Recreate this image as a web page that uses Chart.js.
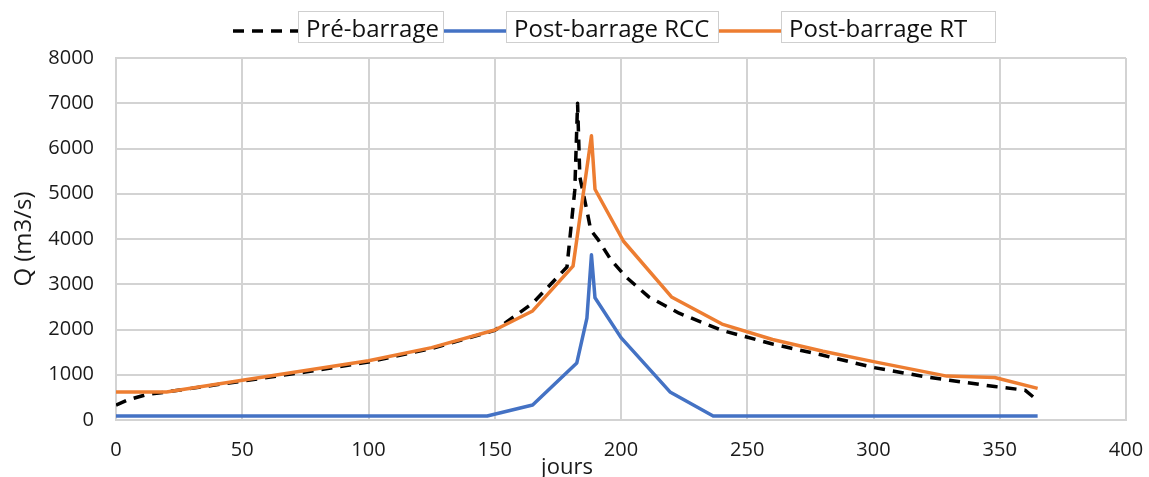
<!DOCTYPE html>
<html><head><meta charset="utf-8">
<script src="https://cdn.jsdelivr.net/npm/chart.js@4.4.1/dist/chart.umd.min.js"></script>
<style>html,body{margin:0;padding:0;background:#fff;overflow:hidden}</style>
</head><body>
<canvas id="c" width="1149" height="477"></canvas>
<script>
// ---- data ----
const seriesNames = ["Pré-barrage", "Post-barrage RCC", "Post-barrage RT"];
const xTicks = [0, 50, 100, 150, 200, 250, 300, 350, 400];
const yTicks = [0, 1000, 2000, 3000, 4000, 5000, 6000, 7000, 8000];
const xTitle = "jours";
const yTitle = "Q (m3/s)";

const preDays = [0, 5, 12, 20, 35, 50, 75, 100, 125, 150, 165, 178.6, 181.7, 182.8, 183.7, 187, 188, 191, 196, 202, 211, 223, 240, 260, 280, 300, 320, 330, 348, 360, 365];
const preQ    = [330, 450, 560, 620, 740, 860, 1060, 1280, 1580, 1980, 2580, 3380, 5080, 7000, 5370, 4490, 4200, 3980, 3540, 3160, 2720, 2360, 1980, 1680, 1430, 1160, 960, 880, 740, 660, 430];

const rccDays = [0, 147, 165, 182.5, 186.5, 188.3, 189.7, 200, 219.4, 236.5, 365];
const rccQ    = [90, 90, 330, 1260, 2250, 3650, 2700, 1820, 620, 90, 90];

const rtDays = [0, 20, 50, 100, 125, 150, 165, 181, 188.3, 189.7, 201, 220, 240, 260, 280, 300, 329, 348, 365];
const rtQ    = [620, 620, 880, 1310, 1600, 1990, 2410, 3400, 6280, 5100, 3950, 2720, 2120, 1780, 1520, 1290, 970, 940, 700];

const pts = (xs, ys) => xs.map((x, i) => ({x: x, y: ys[i]}));

const FONT = "'Open Sans', 'Noto Sans', sans-serif";
const TXT = '#1a1a1a';
const GRID = '#d3d3d3';

const legendBoxes = [
  {line: [233, 298], box: [298, 444]},
  {line: [444, 506], box: [506, 719]},
  {line: [719, 781], box: [781, 996]}
];

const extras = {
  id: 'extras',
  afterDraw(chart) {
    const ctx = chart.ctx;
    ctx.save();
    const yTop = 11, yBot = 43, yMid = 31;
    chart.data.datasets.forEach((ds) => {
      const L = legendBoxes[ds.legendIndex];
      ctx.save();
      ctx.strokeStyle = ds.borderColor;
      ctx.lineWidth = ds.borderWidth;
      ctx.setLineDash(ds.borderDash || []);
      ctx.beginPath();
      ctx.moveTo(L.line[0], yMid);
      ctx.lineTo(L.line[1], yMid);
      ctx.stroke();
      ctx.restore();
    });
    chart.data.datasets.forEach((ds) => {
      const L = legendBoxes[ds.legendIndex];
      ctx.fillStyle = '#fff';
      ctx.fillRect(L.box[0], yTop, L.box[1] - L.box[0], yBot - yTop);
      ctx.strokeStyle = '#cfcfcf';
      ctx.lineWidth = 1;
      ctx.setLineDash([]);
      ctx.strokeRect(L.box[0] + 0.5, yTop + 0.5, L.box[1] - L.box[0] - 1, yBot - yTop - 1);
      ctx.fillStyle = '#111';
      ctx.font = "24px " + FONT;
      ctx.textBaseline = 'alphabetic';
      ctx.textAlign = 'left';
      ctx.fillText(ds.label, L.box[0] + 8, 37, L.box[1] - L.box[0] - 12);
    });
    ctx.fillStyle = TXT;
    ctx.font = "22px " + FONT;
    ctx.textAlign = 'center';
    ctx.textBaseline = 'alphabetic';
    ctx.fillText(xTitle, 567, 474);
    ctx.save();
    ctx.translate(31, 239);
    ctx.rotate(-Math.PI / 2);
    ctx.font = "24px " + FONT;
    ctx.fillText(yTitle, 0, 0);
    ctx.restore();
    ctx.restore();
  }
};

new Chart(document.getElementById('c'), {
  type: 'line',
  data: {
    datasets: [
      {label: seriesNames[2], legendIndex: 2, data: pts(rtDays, rtQ), borderColor: '#ED7D31', borderWidth: 3.5, order: 0},
      {label: seriesNames[1], legendIndex: 1, data: pts(rccDays, rccQ), borderColor: '#4472C4', borderWidth: 3.5, order: 1},
      {label: seriesNames[0], legendIndex: 0, data: pts(preDays, preQ), borderColor: '#000000', borderWidth: 3.5, borderDash: [11, 8], order: 2}
    ]
  },
  options: {
    responsive: false,
    animation: false,
    elements: {point: {radius: 0, hoverRadius: 0}, line: {tension: 0, borderCapStyle: 'butt', borderJoinStyle: 'round'}},
    layout: {padding: {top: 58, right: 23, left: 0, bottom: 0}},
    plugins: {legend: {display: false}, tooltip: {enabled: false}},
    scales: {
      x: {
        type: 'linear', min: 0, max: 400,
        afterBuildTicks: (s) => { s.ticks = xTicks.map(v => ({value: v})); },
        afterFit: (s) => { s.height = 57; s.paddingLeft = 0; s.paddingRight = 0; },
        grid: {color: GRID, lineWidth: 2, drawTicks: false},
        border: {color: GRID, width: 2},
        ticks: {color: TXT, font: {family: FONT, size: 20}, padding: 18, maxRotation: 0, callback: (v) => String(v)}
      },
      y: {
        min: 0, max: 8000,
        afterBuildTicks: (s) => { s.ticks = yTicks.map(v => ({value: v})); },
        afterFit: (s) => { s.width = 116; s.paddingTop = 0; s.paddingBottom = 0; },
        grid: {color: GRID, lineWidth: 2, drawTicks: false},
        border: {color: GRID, width: 2},
        ticks: {color: TXT, font: {family: FONT, size: 20}, padding: 22, callback: (v) => String(v)}
      }
    }
  },
  plugins: [extras]
});
</script>
</body></html>
